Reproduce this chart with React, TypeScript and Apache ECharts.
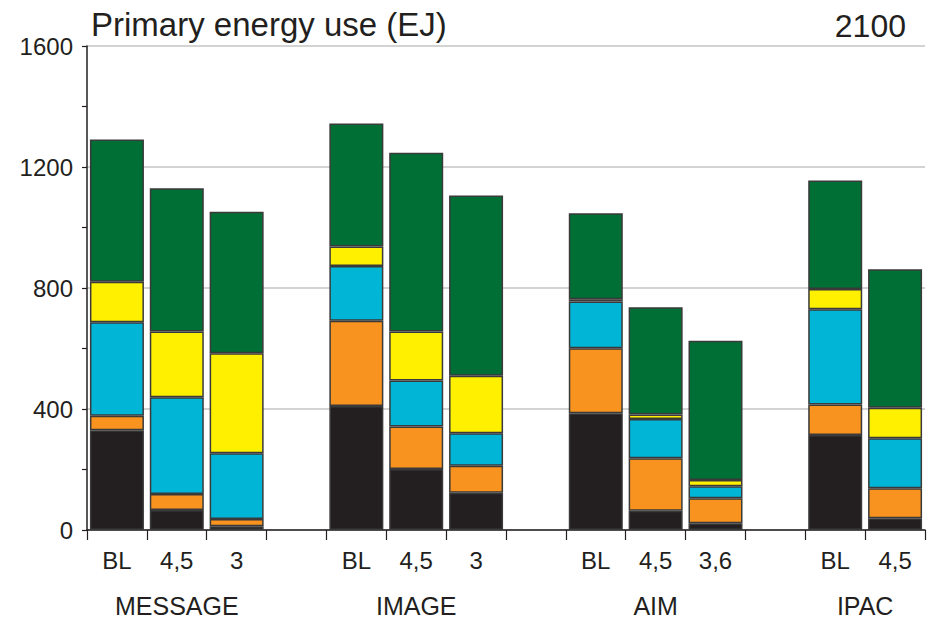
import React, { useEffect, useRef } from "react";
import * as echarts from "echarts";

const categories = ["BL", "4,5", "3", "", "BL", "4,5", "3", "", "BL", "4,5", "3,6", "", "BL", "4,5"];
const groupLabels = ["MESSAGE", "IMAGE", "AIM", "IPAC"];
const groupCenters = [1.5, 5.5, 9.5, 13];
const yTicks = [0, 400, 800, 1200, 1600];

const blackVals = [330, 66, 12, null, 410, 202, 123, null, 386, 64, 22, null, 314, 39];
const orangeVals = [48, 53, 24, null, 282, 140, 89, null, 215, 173, 83, null, 101, 99];
const cyanVals = [309, 320, 218, null, 181, 152, 108, null, 154, 130, 40, null, 315, 165];
const yellowVals = [134, 217, 330, null, 64, 162, 190, null, 8, 15, 20, null, 67, 101];
const greenVals = [470, 474, 468, null, 407, 591, 596, null, 284, 354, 461, null, 358, 458];

const seriesDefs = [
  { name: "Black", data: blackVals, color: "#231f20" },
  { name: "Orange", data: orangeVals, color: "#f7931e" },
  { name: "Cyan", data: cyanVals, color: "#00b5d6" },
  { name: "Yellow", data: yellowVals, color: "#fff000" },
  { name: "Green", data: greenVals, color: "#006f35" },
];

const FONT = "'Liberation Sans', Arial, Helvetica, sans-serif";
const TEXT = "#231f20";

export default function App() {
  const ref = useRef<HTMLDivElement>(null);
  useEffect(() => {
    if (!ref.current) return;
    const chart = echarts.init(ref.current, undefined, { renderer: "svg" });
    chart.setOption({
      animation: false,
      backgroundColor: "#ffffff",
      title: [
        {
          text: "Primary energy use (EJ)",
          left: 86,
          top: 3,
          textStyle: { fontFamily: FONT, fontSize: 33, fontWeight: "normal", color: TEXT },
        },
        {
          text: "2100",
          right: 19,
          top: 5,
          textStyle: { fontFamily: FONT, fontSize: 32, fontWeight: "normal", color: TEXT },
        },
      ],
      grid: { left: 87, right: 5, top: 46, bottom: 91, containLabel: false },
      xAxis: [
        {
          type: "category",
          data: categories,
          position: "bottom",
          axisLine: { show: true, lineStyle: { color: "#231f20", width: 1.5 } },
          axisTick: { show: true, interval: 0, length: 10, lineStyle: { color: "#231f20", width: 1.2 } },
          axisLabel: {
            interval: 0,
            margin: 18,
            fontFamily: FONT,
            fontSize: 24,
            color: TEXT,
          },
          splitLine: { show: false },
        },
        {
          type: "value",
          position: "bottom",
          min: 0,
          max: 14,
          interval: 0.5,
          axisLine: { show: false },
          axisTick: { show: false },
          splitLine: { show: false },
          axisLabel: {
            margin: 63,
            fontFamily: FONT,
            fontSize: 25,
            color: TEXT,
            showMinLabel: true,
            showMaxLabel: true,
            formatter: (v: number) => {
              const i = groupCenters.indexOf(v);
              return i >= 0 ? groupLabels[i] : "";
            },
          },
        },
      ],
      yAxis: {
        type: "value",
        min: 0,
        max: 1600,
        interval: 400,
        axisLine: { show: true, lineStyle: { color: "#231f20", width: 1.5 } },
        axisTick: { show: true, length: 5, lineStyle: { color: "#231f20", width: 1.2 } },
        minorTick: { show: true, splitNumber: 2, length: 5, lineStyle: { color: "#231f20", width: 1.2 } },
        axisLabel: {
          margin: 14,
          fontFamily: FONT,
          fontSize: 24,
          color: TEXT,
          formatter: (v: number) => (yTicks.includes(v) ? String(v) : ""),
        },
        splitLine: { show: true, lineStyle: { color: "#c4c4c4", width: 1.5 } },
      },
      series: seriesDefs.map((s) => ({
        name: s.name,
        type: "bar",
        stack: "total",
        xAxisIndex: 0,
        barWidth: 54,
        data: s.data,
        itemStyle: { color: s.color, borderColor: "#3a3a3a", borderWidth: 1.5 },
      })),
    });
    return () => chart.dispose();
  }, []);
  return (
    <div
      ref={ref}
      style={{ position: "fixed", left: 0, top: 0, width: 930, height: 621 }}
    />
  );
}
